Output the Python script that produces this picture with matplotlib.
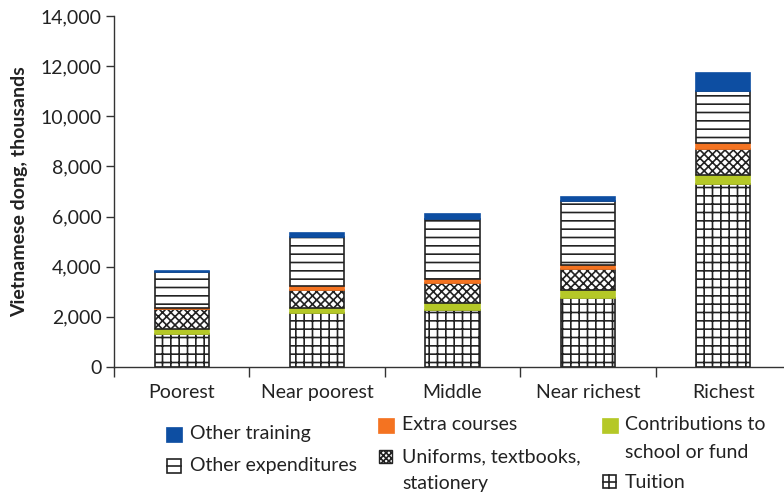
import matplotlib
matplotlib.use("Agg")
import matplotlib.pyplot as plt
from matplotlib.patches import Rectangle
import numpy as np

categories = ["Poorest", "Near poorest", "Middle", "Near richest", "Richest"]
tuition = [1300, 2140, 2270, 2740, 7300]
contributions = [210, 225, 295, 330, 360]
uniforms = [800, 705, 785, 840, 1025]
extra_courses = [30, 175, 150, 160, 240]
other_expenditures = [1440, 1930, 2400, 2550, 2090]
other_training = [50, 160, 190, 170, 705]
y_ticks = [0, 2000, 4000, 6000, 8000, 10000, 12000, 14000]

BLUE = "#0d4ea2"
ORANGE = "#f47321"
GREEN = "#b5c827"
FONT = ["Lato", "DejaVu Sans"]

plt.rcParams["font.family"] = FONT
plt.rcParams["hatch.linewidth"] = 1.2
plt.rcParams["hatch.color"] = "#222222"

W, H = 784, 496
fig = plt.figure(figsize=(W / 100, H / 100), dpi=100)
ax = fig.add_axes([114 / W, 1 - 367 / H, (791 - 114) / W, (367 - 16) / H])

x = np.arange(len(categories))
bw = 0.40
series = [
    (tuition, dict(facecolor="white", hatch="++", edgecolor="#222222")),
    (contributions, dict(facecolor=GREEN, edgecolor=GREEN)),
    (uniforms, dict(facecolor="white", hatch="xxxx", edgecolor="#222222")),
    (extra_courses, dict(facecolor=ORANGE, edgecolor=ORANGE)),
    (other_expenditures, dict(facecolor="white", hatch="--", edgecolor="#222222")),
    (other_training, dict(facecolor=BLUE, edgecolor=BLUE)),
]
bottom = np.zeros(len(categories))
for vals, style in series:
    ax.bar(x, vals, bw, bottom=bottom, linewidth=1.2, **style)
    bottom += np.array(vals)

ax.set_xlim(-0.5, 4.5)
ax.set_ylim(0, 14000)
ax.set_yticks(y_ticks)
ax.set_yticklabels([f"{v:,}" for v in y_ticks], fontsize=14, color="#222222")
ax.set_xticks(x)
ax.set_xticklabels(categories, fontsize=14, color="#222222")
ax.tick_params(axis="x", which="major", length=0, pad=12)
ax.set_xticks(np.arange(-0.5, 4.6, 1.0), minor=True)
ax.tick_params(axis="x", which="minor", length=7, width=1, color="#333333")
ax.tick_params(axis="y", length=6, width=1, color="#333333", pad=3)
for s in ["top", "right"]:
    ax.spines[s].set_visible(False)
for s in ["left", "bottom"]:
    ax.spines[s].set_color("#333333")
    ax.spines[s].set_linewidth(1.0)
ax.set_ylabel("Vietnamese dong, thousands", fontsize=14, fontweight="bold",
              color="#222222", labelpad=9)

# legend overlay in pixel coordinates
lg = fig.add_axes([0, 0, 1, 1])
lg.set_xlim(0, W)
lg.set_ylim(H, 0)
lg.axis("off")
fs = 14
tc = "#222222"

def solid_key(x0, y0, color):
    lg.add_patch(Rectangle((x0, y0), 16, 15, facecolor=color, edgecolor=color, lw=0.5))

solid_key(166, 427, BLUE)
lg.text(190, 434, "Other training", fontsize=fs, va="center", color=tc)

lg.add_patch(Rectangle((167, 459), 14, 14, facecolor="white", edgecolor="#222222", lw=1.2))
lg.plot([167, 181], [466, 466], color="#222222", lw=1.2)
lg.text(190, 465, "Other expenditures", fontsize=fs, va="center", color=tc)

solid_key(378, 418, ORANGE)
lg.text(402, 425, "Extra courses", fontsize=fs, va="center", color=tc)

lg.add_patch(Rectangle((379, 450), 13, 13, facecolor="white", edgecolor="#222222",
                       lw=1.0, hatch="xxxxxx"))
lg.text(402, 457, "Uniforms, textbooks,", fontsize=fs, va="center", color=tc)
lg.text(402, 484, "stationery", fontsize=fs, va="center", color=tc)

solid_key(602, 418, GREEN)
lg.text(625, 425, "Contributions to", fontsize=fs, va="center", color=tc)
lg.text(625, 452, "school or fund", fontsize=fs, va="center", color=tc)

lg.add_patch(Rectangle((603, 475), 13, 13, facecolor="white", edgecolor="#222222", lw=1.2))
lg.plot([603, 616], [481.5, 481.5], color="#222222", lw=1.2)
lg.plot([609.5, 609.5], [475, 488], color="#222222", lw=1.2)
lg.text(625, 482, "Tuition", fontsize=fs, va="center", color=tc)

fig.savefig("out.png", dpi=100)
